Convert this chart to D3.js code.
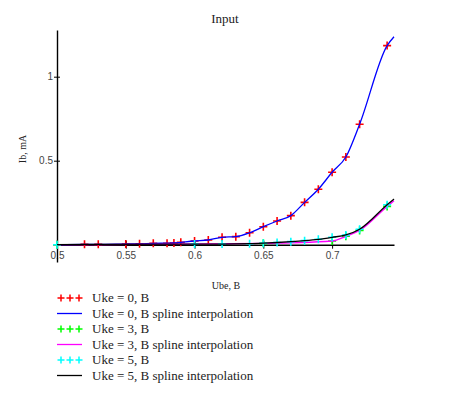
<!DOCTYPE html>
<html>
<head>
<meta charset="utf-8">
<script src="https://cdn.jsdelivr.net/npm/d3@7"></script>
<style>
  body { margin: 0; background: #fff; }
  .tick text { font-family: "Liberation Sans", sans-serif; font-size: 10px; fill: #444; }
</style>
</head>
<body>
<div id="chart"></div>
<script>
// measured points, Ube (B) -> Ib (mA)
var uke0X = [0.5, 0.52, 0.53, 0.55, 0.56, 0.57, 0.58, 0.585, 0.59, 0.6, 0.61, 0.62, 0.63, 0.64, 0.65, 0.66, 0.67, 0.68, 0.69, 0.7, 0.71, 0.72, 0.74];
var uke0Y = [0, 0.002, 0.002, 0.004, 0.005, 0.008, 0.009, 0.01, 0.014, 0.022, 0.028, 0.044, 0.048, 0.071, 0.107, 0.141, 0.173, 0.252, 0.33, 0.431, 0.522, 0.717, 1.185];

var uke3X = [0.5, 0.65, 0.7, 0.71, 0.72, 0.74];
var uke3Y = [0, 0.008, 0.022, 0.05, 0.085, 0.228];

var uke5X = [0.5, 0.6, 0.62, 0.64, 0.65, 0.66, 0.67, 0.68, 0.69, 0.7, 0.71, 0.72, 0.74];
var uke5Y = [0, 0.004, 0.004, 0.006, 0.009, 0.013, 0.018, 0.024, 0.032, 0.044, 0.058, 0.092, 0.238];

// where each spline line ends on the right edge
var splineEndX = 0.745;
var splineEndY = [1.238, 0.262, 0.272];

var xTicks = [0.5, 0.55, 0.6, 0.65, 0.7];
var yTicks = [0.5, 1];

var legendLabels = ["Uke = 0, B", "Uke = 0, B spline interpolation", "Uke = 3, B",
                    "Uke = 3, B spline interpolation", "Uke = 5, B", "Uke = 5, B spline interpolation"];

function pts(xs, ys) {
  return xs.map(function(x, i) { return {x: x, y: ys[i]}; });
}

var svg = d3.select("#chart").append("svg")
    .attr("width", 460)
    .attr("height", 395);

var x = d3.scaleLinear().domain([0.5, 0.745]).range([57, 394]);
var y = d3.scaleLinear().domain([-0.103, 1.278]).range([262, 30]);

// title
svg.append("text")
    .attr("x", 225).attr("y", 23)
    .attr("text-anchor", "middle")
    .style("font-family", "'Liberation Serif', serif")
    .style("font-size", "13px")
    .style("fill", "#222")
    .text("Input");

// axes (x axis crosses at y = 0)
var xAxis = d3.axisBottom(x).tickValues(xTicks).tickSize(0).tickSizeOuter(0)
    .tickFormat(function(d) { return String(d); });
var gx = svg.append("g")
    .attr("transform", "translate(0," + y(0) + ")")
    .call(xAxis);
gx.selectAll(".tick line").attr("y1", -4).attr("y2", 4).attr("stroke", "#000");
gx.selectAll(".tick text").attr("y", 7);
gx.select(".domain").attr("stroke", "#000").attr("stroke-width", 1.4);

var yAxis = d3.axisLeft(y).tickValues(yTicks).tickSize(0).tickSizeOuter(0)
    .tickFormat(function(d) { return String(d); });
var gy = svg.append("g")
    .attr("transform", "translate(" + x(0.5) + ",0)")
    .call(yAxis);
gy.selectAll(".tick line").attr("x1", -3).attr("x2", 3).attr("stroke", "#000");
gy.selectAll(".tick text").attr("x", -4);
gy.select(".domain").attr("stroke", "#000").attr("stroke-width", 1.4);

// axis titles
svg.append("text")
    .attr("transform", "translate(26,149) rotate(-90)")
    .attr("text-anchor", "middle")
    .style("font-family", "'Liberation Serif', serif")
    .style("font-size", "10px")
    .style("fill", "#222")
    .text("Ib, mA");

svg.append("text")
    .attr("x", 226).attr("y", 289)
    .attr("text-anchor", "middle")
    .style("font-family", "'Liberation Serif', serif")
    .style("font-size", "10px")
    .style("fill", "#222")
    .text("Ube, B");

var line = d3.line()
    .x(function(d) { return x(d.x); })
    .y(function(d) { return y(d.y); })
    .curve(d3.curveMonotoneX);

function crosses(data, color) {
  var g = svg.append("g").attr("stroke", color).attr("stroke-width", 1.6);
  g.selectAll("path")
      .data(data)
    .enter().append("path")
      .attr("d", function(d) {
        var cx = x(d.x), cy = y(d.y);
        return "M" + (cx - 4) + "," + cy + "H" + (cx + 4) + "M" + cx + "," + (cy - 4) + "V" + (cy + 4);
      });
}

function spline(data, endY, color) {
  var all = data.concat([{x: splineEndX, y: endY}]);
  svg.append("path")
      .datum(all)
      .attr("fill", "none")
      .attr("stroke", color)
      .attr("stroke-width", 1.3)
      .attr("d", line);
}

var series = [
  {data: pts(uke0X, uke0Y), marker: "#ff0000", line: "#0000ff", end: splineEndY[0]},
  {data: pts(uke3X, uke3Y), marker: "#00ff00", line: "#ff00ff", end: splineEndY[1]},
  {data: pts(uke5X, uke5Y), marker: "#00ffff", line: "#000000", end: splineEndY[2]}
];

series.forEach(function(s) {
  crosses(s.data, s.marker);
  spline(s.data, s.end, s.line);
});

// legend
var legendColors = ["#ff0000", "#0000ff", "#00ff00", "#ff00ff", "#00ffff", "#000000"];
var legend = svg.selectAll(".legend")
    .data(legendLabels)
  .enter().append("g")
    .attr("class", "legend")
    .attr("transform", function(d, i) { return "translate(0," + (298 + i * 15.5) + ")"; });

legend.each(function(d, i) {
  var g = d3.select(this);
  if (i % 2 === 0) {
    [61, 70, 79].forEach(function(cx) {
      g.append("path")
          .attr("d", "M" + (cx - 3.5) + ",0H" + (cx + 3.5) + "M" + cx + ",-3.5V3.5")
          .attr("stroke", legendColors[i])
          .attr("stroke-width", 1.5);
    });
  } else {
    g.append("line")
        .attr("x1", 57).attr("x2", 82)
        .attr("stroke", legendColors[i])
        .attr("stroke-width", 1.3);
  }
  g.append("text")
      .attr("x", 92).attr("y", 4)
      .style("font-family", "'Liberation Serif', serif")
      .style("font-size", "13px")
      .style("fill", "#222")
      .text(d);
});
</script>
</body>
</html>
